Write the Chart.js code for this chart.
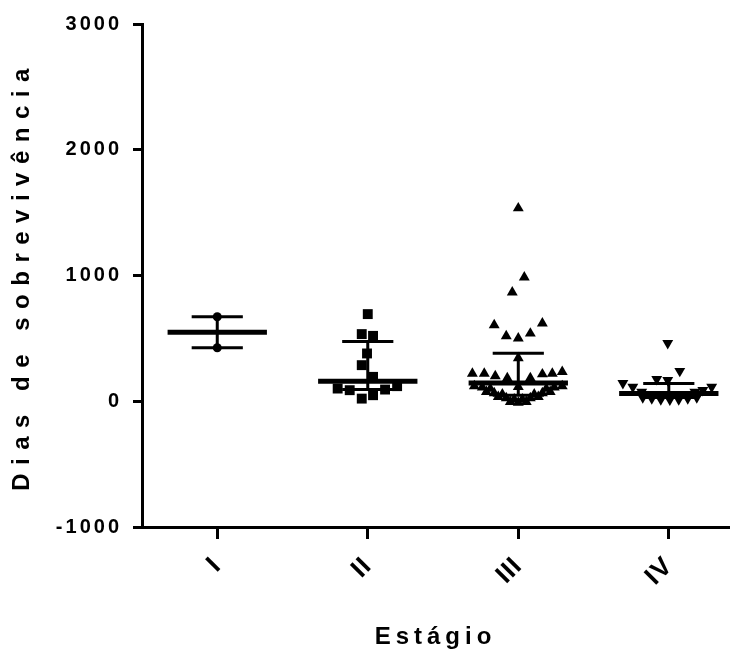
<!DOCTYPE html>
<html>
<head>
<meta charset="utf-8">
<script src="https://cdn.jsdelivr.net/npm/chart.js@4.4.1/dist/chart.umd.min.js"></script>
<style>
  html, body { margin: 0; padding: 0; background: #fff; }
  #wrap { width: 736px; height: 662px; }
</style>
</head>
<body>
<div id="wrap"><canvas id="chart"></canvas></div>
<script>
// stages and summary lines (centre line + whiskers)
const stages = ['I', 'II', 'III', 'IV'];
const stageCentre = [548, 159, 146, 61];
const stageLow = [425, 93, 48, 30];
const stageHigh = [672, 476, 382, 141];

// individual survival days per stage, with horizontal jitter (in category units)
const daysI = [672, 425];
const jitterI = [0, 0];

const daysII = [693, 534, 520, 380, 287, 194, 101, 88, 21, 48, 93, 120];
const jitterII = [0, -0.04, 0.035, -0.005, -0.04, 0.035, -0.2, -0.12, -0.04, 0.035, 0.115, 0.195];

const daysIII = [
  1535, 986, 866, 606, 619, 518, 500, 539, 343, 114,
  220, 220, 200, 185, 185, 215, 220, 234,
  120, 110, 100, 100, 110, 120,
  75, 65, 55, 55, 65, 75,
  35, 25, 15, 15, 25, 35,
  -5, -10, -5
];
const jitterIII = [
  0, 0.04, -0.04, -0.16, 0.16, -0.08, 0, 0.08, 0, 0,
  -0.305, -0.226, -0.153, -0.073, 0.08, 0.16, 0.226, 0.292,
  -0.292, -0.239, -0.186, 0.186, 0.239, 0.292,
  -0.212, -0.16, -0.106, 0.106, 0.16, 0.212,
  -0.133, -0.08, -0.027, 0.027, 0.08, 0.133,
  -0.053, 0, 0.053
];

const daysIV = [462, 240, 175, 167, 143, 114, 114, 88, 74, 74, 30, 22, 15, 12, 15, 22, 30];
const jitterIV = [-0.007, 0.073, -0.08, -0.007, -0.305, -0.239, 0.285, 0.226, -0.18, 0.173,
  -0.173, -0.113, -0.053, 0.007, 0.066, 0.126, 0.186];

const yTicks = [-1000, 0, 1000, 2000, 3000];

const allDays = [daysI, daysII, daysIII, daysIV];
const allJitter = [jitterI, jitterII, jitterIII, jitterIV];

// marker look per stage
const markers = [
  { style: 'circle', radius: 4.5, rotation: 0 },
  { style: 'rect', radius: 7, rotation: 0 },
  { style: 'triangle', radius: 6.3, rotation: 0 },
  { style: 'triangle', radius: 6.3, rotation: 180 }
];
const CENTRE_HALF = 0.33;
const CAP_HALF = 0.17;
const FONT = '"Liberation Sans", Arial, sans-serif';

const datasets = [];
stages.forEach((s, i) => {
  const c = i + 1;
  datasets.push({
    label: 'Estágio ' + s,
    data: allDays[i].map((d, k) => ({ x: c + allJitter[i][k], y: d })),
    pointStyle: markers[i].style,
    pointRadius: markers[i].radius,
    pointRotation: markers[i].rotation,
    backgroundColor: '#000',
    borderColor: '#000',
    borderWidth: 0,
    showLine: false,
    order: 2
  });
  // centre line
  datasets.push({
    data: [{ x: c - CENTRE_HALF, y: stageCentre[i] }, { x: c + CENTRE_HALF, y: stageCentre[i] }],
    showLine: true, borderColor: '#000', borderWidth: 5, pointRadius: 0,
    borderCapStyle: 'butt', order: 1
  });
  // whiskers: top cap, stem, bottom cap
  datasets.push({
    data: [
      { x: c - CAP_HALF, y: stageHigh[i] }, { x: c + CAP_HALF, y: stageHigh[i] },
      { x: c, y: null },
      { x: c, y: stageHigh[i] }, { x: c, y: stageLow[i] },
      { x: c, y: null },
      { x: c - CAP_HALF, y: stageLow[i] }, { x: c + CAP_HALF, y: stageLow[i] }
    ],
    showLine: true, spanGaps: false, borderColor: '#000', borderWidth: 3, pointRadius: 0,
    borderCapStyle: 'butt', order: 1
  });
});

// letter spacing per scale, for tick labels and for the axis title
const spacing = {
  x: { ticks: '1px', title: '5px' },
  y: { ticks: '3px', title: '8.5px' }
};

function withSpacing(scale, fn, value) {
  return function () {
    const ctx = scale.ctx;
    const prev = ctx.letterSpacing;
    ctx.letterSpacing = value;
    const res = fn.apply(scale, arguments);
    ctx.letterSpacing = prev;
    return res;
  };
}

const letterSpacingPlugin = {
  id: 'letterSpacing',
  beforeLayout(chart) {
    // tick sizes get measured during layout
    Object.keys(spacing).forEach(id => {
      const s = chart.scales[id];
      if (s && !s._spaced) {
        s._computeLabelSizes = withSpacing(s, s._computeLabelSizes, spacing[id].ticks);
        s.drawLabels = withSpacing(s, s.drawLabels, spacing[id].ticks);
        s.drawTitle = withSpacing(s, s.drawTitle, spacing[id].title);
        s._spaced = true;
      }
    });
  }
};

new Chart(document.getElementById('chart'), {
  type: 'scatter',
  data: { datasets },
  options: {
    responsive: true,
    maintainAspectRatio: false,
    animation: false,
    layout: { padding: { left: 4, right: 6, top: 24, bottom: 6 } },
    plugins: { legend: { display: false }, tooltip: { enabled: false } },
    scales: {
      x: {
        type: 'linear',
        min: 0.5,
        max: 4.4,
        afterBuildTicks: scale => { scale.ticks = stages.map((s, i) => ({ value: i + 1 })); },
        afterFit: scale => { scale.height = 129; },
        ticks: {
          callback: v => stages[v - 1],
          minRotation: 45,
          maxRotation: 45,
          padding: 12,
          color: '#000',
          font: { family: FONT, size: 26, weight: 'bold' }
        },
        grid: { drawOnChartArea: false, drawTicks: true, tickLength: 12, tickWidth: 3, tickColor: '#000', color: '#000' },
        border: { display: true, color: '#000', width: 3 },
        title: {
          display: true,
          text: 'Estágio',
          color: '#000',
          padding: 4,
          font: { family: FONT, size: 24, weight: 'bold' }
        }
      },
      y: {
        min: -1000,
        max: 3000,
        afterBuildTicks: scale => { scale.ticks = yTicks.map(v => ({ value: v })); },
        afterFit: scale => { scale.width = 138; },
        ticks: {
          callback: v => String(v),
          padding: 11,
          color: '#000',
          font: { family: FONT, size: 20, weight: 'bold' }
        },
        grid: { drawOnChartArea: false, drawTicks: true, tickLength: 9, tickWidth: 3, tickColor: '#000', color: '#000' },
        border: { display: true, color: '#000', width: 3 },
        title: {
          display: true,
          text: 'Dias de sobrevivência',
          color: '#000',
          padding: 4,
          font: { family: FONT, size: 24, weight: 'bold' }
        }
      }
    }
  },
  plugins: [letterSpacingPlugin]
});
</script>
</body>
</html>
